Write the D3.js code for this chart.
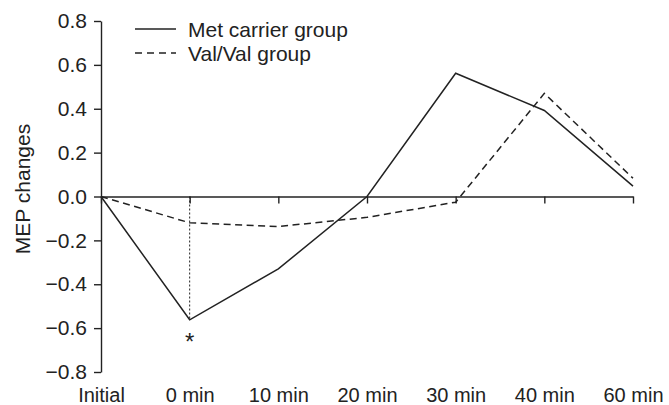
<!DOCTYPE html>
<html>
<head>
<meta charset="utf-8">
<script src="https://cdn.jsdelivr.net/npm/d3@7"></script>
<style>
  body { margin: 0; background: #fff; }
  svg { display: block; font-family: "Liberation Sans", Arial, Helvetica, sans-serif; }
</style>
</head>
<body>
<svg id="chart" width="669" height="405"></svg>
<script>
const categories = ["Initial", "0 min", "10 min", "20 min", "30 min", "40 min", "60 min"];
const metCarrier = [0, -0.562, -0.33, 0.0, 0.562, 0.392, 0.047];
const valVal = [0, -0.12, -0.137, -0.095, -0.026, 0.47, 0.083];
const yTicks = [-0.8, -0.6, -0.4, -0.2, 0.0, 0.2, 0.4, 0.6, 0.8];
const seriesNames = ["Met carrier group", "Val/Val group"];

const ink = "#222";
const svg = d3.select("#chart");

const x = d3.scalePoint().domain(categories).range([101, 633]);
const y = d3.scaleLinear().domain([-0.8, 0.8]).range([372, 21]);
const fmt = d3.format(".1f");

// Y axis
const yAxis = svg.append("g")
  .attr("transform", `translate(${x(categories[0])},0)`)
  .call(d3.axisLeft(y).tickValues(yTicks).tickFormat(fmt).tickSize(7).tickSizeOuter(0).tickPadding(7));
yAxis.selectAll("path,line").attr("stroke", ink).attr("stroke-width", 1.4);
yAxis.selectAll("text").attr("fill", ink).style("font-size", "21px").attr("font-family", null);

// X axis line at zero with downward ticks
const xAxis = svg.append("g")
  .attr("transform", `translate(0,${y(0)})`)
  .call(d3.axisBottom(x).tickSize(7).tickSizeOuter(0).tickFormat(""));
xAxis.selectAll("path,line").attr("stroke", ink).attr("stroke-width", 1.4);

// X labels at bottom
const xLab = svg.append("g")
  .attr("transform", `translate(0,${y(-0.8)})`)
  .call(d3.axisBottom(x).tickSize(0).tickPadding(16));
xLab.select(".domain").remove();
xLab.selectAll("text").attr("fill", ink).style("font-size", "20px").attr("font-family", null);

// Y title
svg.append("text")
  .attr("transform", "translate(30,189) rotate(-90)")
  .attr("text-anchor", "middle")
  .attr("fill", ink)
  .style("font-size", "21px")
  .text("MEP changes");

// Dotted vertical at 0 min
svg.append("line")
  .attr("x1", x(categories[1])).attr("x2", x(categories[1]))
  .attr("y1", y(0)).attr("y2", y(metCarrier[1]))
  .attr("stroke", ink).attr("stroke-width", 1).attr("stroke-dasharray", "2,2");

const line = d3.line().x((d, i) => x(categories[i])).y(d => y(d));

svg.append("path").datum(metCarrier)
  .attr("d", line).attr("fill", "none").attr("stroke", ink).attr("stroke-width", 1.5);
svg.append("path").datum(valVal)
  .attr("d", line).attr("fill", "none").attr("stroke", ink).attr("stroke-width", 1.5)
  .attr("stroke-dasharray", "7,4.5");

// Asterisk
svg.append("text")
  .attr("x", x(categories[1])).attr("y", y(metCarrier[1]) + 30)
  .attr("text-anchor", "middle").attr("fill", ink)
  .style("font-size", "24px").text("*");

// Legend
const legend = svg.append("g");
seriesNames.forEach((name, i) => {
  const ly = 29 + i * 24;
  legend.append("line")
    .attr("x1", 135).attr("x2", 176).attr("y1", ly).attr("y2", ly)
    .attr("stroke", ink).attr("stroke-width", 1.5)
    .attr("stroke-dasharray", i === 1 ? "7,5" : null);
  legend.append("text")
    .attr("x", 188).attr("y", ly + 8)
    .attr("fill", ink).style("font-size", "21px").text(name);
});
</script>
</body>
</html>
